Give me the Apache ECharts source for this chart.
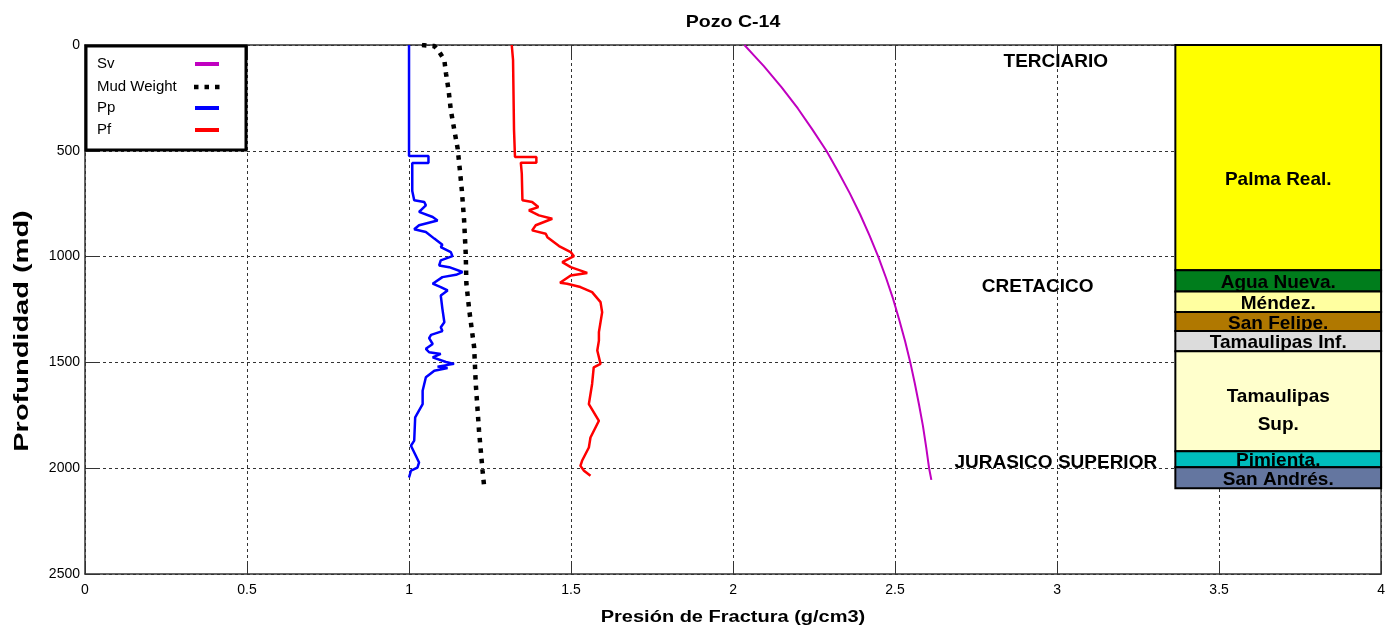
<!DOCTYPE html>
<html><head><meta charset="utf-8">
<script src="https://cdn.jsdelivr.net/npm/echarts@6/dist/echarts.min.js"></script>
<style>html,body{margin:0;padding:0;background:#fff;overflow:hidden}#c{width:1388px;height:629px}</style>
</head><body><div id="c"></div>
<script>
// ---- data ----
const titleText = 'Pozo C-14';
const xName = 'Presión de Fractura (g/cm3)';
const yName = 'Profundidad (md)';
const xMin = 0, xMax = 4, xStep = 0.5;
const yMin = 0, yMax = 2500, yStep = 500;

const svData = [[2.035,0],[2.065,50],[2.095,100],[2.15,200],[2.20,300],[2.245,400],[2.288,500],[2.325,600],[2.36,700],[2.392,800],[2.421,900],[2.448,1000],[2.472,1100],[2.494,1200],[2.513,1300],[2.531,1400],[2.547,1500],[2.561,1600],[2.574,1700],[2.586,1800],[2.596,1900],[2.605,2000],[2.612,2055]];
const mudData = [[1.04,0],[1.078,5],[1.093,32],[1.109,71],[1.114,134],[1.122,213],[1.129,308],[1.139,395],[1.150,489],[1.157,592],[1.163,687],[1.170,829],[1.175,987],[1.177,1128],[1.186,1255],[1.201,1429],[1.206,1602],[1.216,1823],[1.227,2012],[1.232,2088]];
const ppData = [[1.0,0],[1.0,525],[1.06,525],[1.06,558],[1.01,558],[1.01,690],[1.016,734],[1.047,742],[1.052,758],[1.031,789],[1.073,813],[1.088,829],[1.031,852],[1.016,871],[1.052,884],[1.078,915],[1.103,944],[1.098,955],[1.129,979],[1.134,998],[1.098,1018],[1.093,1042],[1.124,1050],[1.165,1073],[1.145,1086],[1.103,1097],[1.073,1128],[1.098,1144],[1.119,1160],[1.098,1184],[1.103,1247],[1.109,1310],[1.098,1334],[1.103,1352],[1.068,1370],[1.062,1385],[1.073,1413],[1.052,1436],[1.062,1452],[1.098,1460],[1.073,1476],[1.114,1498],[1.139,1507],[1.088,1520],[1.119,1526],[1.078,1539],[1.052,1570],[1.042,1634],[1.042,1697],[1.019,1760],[1.016,1870],[1.006,1894],[1.021,1941],[1.031,1973],[1.026,1997],[1.006,2012],[1.0,2044]];
const pfData = [[1.317,0],[1.321,70],[1.324,400],[1.327,529],[1.393,529],[1.393,556],[1.345,556],[1.348,608],[1.35,734],[1.38,742],[1.399,766],[1.37,781],[1.365,789],[1.401,805],[1.442,821],[1.391,852],[1.38,876],[1.422,892],[1.427,908],[1.463,950],[1.499,979],[1.509,998],[1.473,1026],[1.499,1050],[1.55,1077],[1.499,1089],[1.466,1124],[1.488,1128],[1.529,1144],[1.565,1168],[1.591,1215],[1.596,1263],[1.586,1357],[1.586,1397],[1.581,1444],[1.591,1507],[1.570,1523],[1.565,1602],[1.555,1697],[1.586,1776],[1.560,1855],[1.555,1902],[1.534,1965],[1.529,1989],[1.540,2012],[1.560,2036]];

const seriesNames = ['Sv','Mud Weight','Pp','Pf'];

const formationNames = ['Palma Real.','Agua Nueva.','Méndez.','San Felipe.','Tamaulipas Inf.','Tamaulipas\nSup.','Pimienta.','San Andrés.'];
const formationTops = [0,1065,1165,1262,1352,1447,1920,1995];
const formationBottoms = [1065,1165,1262,1352,1447,1920,1995,2095];
const columnLeft = 3.365, columnRight = 4.0;

const eraNames = ['TERCIARIO','CRETACICO','JURASICO SUPERIOR'];
const eraX = [2.996,2.94,2.996];
const eraDepth = [80,1141,1975];

// ---- styles ----
const formationColors = ['#ffff00','#007d1c','#ffffa0','#b07800','#dcdcdc','#ffffcc','#00bdbd','#6476a0'];
const seriesColors = ['#c000c0','#000000','#0000ff','#ff0000'];
const FONT = '"Liberation Sans", Arial, sans-serif';

const stratData = formationNames.map((n,i)=>[columnLeft, columnRight, formationTops[i], formationBottoms[i], i]);
const eraData = eraNames.map((n,i)=>[eraX[i], eraDepth[i], i]);

const chart = echarts.init(document.getElementById('c'), null, {renderer:'canvas', width:1388, height:629});

const axisLineStyle = {color:'#333', width:1.5};

const option = {
  animation:false,
  backgroundColor:'#fff',
  grid:{left:85, right:4, top:45, bottom:55, containLabel:false},
  xAxis:[
    {type:'value', min:xMin, max:xMax, interval:xStep, position:'bottom',
     axisLine:{show:true, onZero:false, lineStyle:axisLineStyle},
     axisTick:{show:true, inside:true, length:12, lineStyle:{color:'#333'}},
     axisLabel:{show:true, color:'#000', fontSize:14, fontFamily:FONT, margin:9, formatter:v=>String(v)},
     splitLine:{show:true, lineStyle:{color:'#333', type:[3,3], width:1}}},
    {type:'value', min:xMin, max:xMax, interval:xStep, position:'top',
     axisLine:{show:true, onZero:false, lineStyle:axisLineStyle},
     axisTick:{show:true, inside:true, length:12, lineStyle:{color:'#333'}},
     axisLabel:{show:false}, splitLine:{show:false}}
  ],
  yAxis:[
    {type:'value', min:yMin, max:yMax, interval:yStep, inverse:true, position:'left',
     axisLine:{show:true, onZero:false, lineStyle:axisLineStyle},
     axisTick:{show:true, inside:true, length:12, lineStyle:{color:'#333'}},
     axisLabel:{show:true, color:'#000', fontSize:14, fontFamily:FONT, margin:5, formatter:v=>String(v)},
     splitLine:{show:true, lineStyle:{color:'#333', type:[3,3], width:1}}},
    {type:'value', min:yMin, max:yMax, interval:yStep, inverse:true, position:'right',
     axisLine:{show:true, onZero:false, lineStyle:axisLineStyle},
     axisTick:{show:true, inside:true, length:12, lineStyle:{color:'#333'}},
     axisLabel:{show:false}, splitLine:{show:false}}
  ],
  series:[
    {name:seriesNames[0], type:'line', data:svData, showSymbol:false, symbol:'none', lineStyle:{color:seriesColors[0], width:2}, z:3},
    {name:seriesNames[1], type:'line', data:mudData, showSymbol:false, symbol:'none', lineStyle:{color:seriesColors[1], width:4.5, type:[4.5,6], cap:'butt'}, z:3},
    {name:seriesNames[2], type:'line', data:ppData, showSymbol:false, symbol:'none', lineStyle:{color:seriesColors[2], width:2.5}, z:3},
    {name:seriesNames[3], type:'line', data:pfData, showSymbol:false, symbol:'none', lineStyle:{color:seriesColors[3], width:2.5}, z:3},
    {type:'custom', data:stratData, z:4, clip:false,
     renderItem:function(params, api){
       const i = api.value(4);
       const p0 = api.coord([api.value(0), api.value(2)]);
       const p1 = api.coord([api.value(1), api.value(3)]);
       const h = p1[1]-p0[1];
       const cy = p0[1] + h*0.6;
       return {type:'group', children:[
         {type:'rect', shape:{x:p0[0], y:p0[1], width:p1[0]-p0[0], height:h},
          style:{fill:formationColors[i], stroke:'#000', lineWidth:2}},
         {type:'text', x:(p0[0]+p1[0])/2, y:cy,
          style:{text:formationNames[i], align:'center', verticalAlign:'middle',
                 font:'bold 19px '+FONT, fill:'#000', lineHeight:28}}
       ]};
     }},
    {type:'custom', data:eraData, z:4, clip:false,
     renderItem:function(params, api){
       const i = api.value(2);
       const p = api.coord([api.value(0), api.value(1)]);
       return {type:'text', x:p[0], y:p[1],
         style:{text:eraNames[i], align:'center', verticalAlign:'middle', font:'bold 19px '+FONT, fill:'#000'}};
     }}
  ],
  graphic:[
    {type:'text', x:733, y:22, z:10, scaleX:1.15,
     style:{text:titleText, align:'center', verticalAlign:'middle', font:'bold 17px '+FONT, fill:'#000'}},
    {type:'text', x:733, y:618, z:10, scaleX:1.25,
     style:{text:xName, align:'center', verticalAlign:'middle', font:'bold 16px '+FONT, fill:'#000'}},
    {type:'text', x:22, y:331, z:10, rotation:Math.PI/2, scaleX:1.38,
     style:{text:yName, align:'center', verticalAlign:'middle', font:'bold 21px '+FONT, fill:'#000'}},
    // legend
    {type:'rect', z:20, shape:{x:86, y:46, width:160, height:104}, style:{fill:'#fff', stroke:'#000', lineWidth:3}},
    {type:'text', z:21, x:97, y:64, style:{text:seriesNames[0], verticalAlign:'middle', font:'15px '+FONT, fill:'#000'}},
    {type:'text', z:21, x:97, y:87, style:{text:seriesNames[1], verticalAlign:'middle', font:'15px '+FONT, fill:'#000'}},
    {type:'text', z:21, x:97, y:108, style:{text:seriesNames[2], verticalAlign:'middle', font:'15px '+FONT, fill:'#000'}},
    {type:'text', z:21, x:97, y:130, style:{text:seriesNames[3], verticalAlign:'middle', font:'15px '+FONT, fill:'#000'}},
    {type:'line', z:21, shape:{x1:195, y1:64, x2:219, y2:64}, style:{stroke:seriesColors[0], lineWidth:4}},
    {type:'line', z:21, shape:{x1:194, y1:87, x2:220, y2:87}, style:{stroke:seriesColors[1], lineWidth:4.5, lineDash:[4.5,6]}},
    {type:'line', z:21, shape:{x1:195, y1:108, x2:219, y2:108}, style:{stroke:seriesColors[2], lineWidth:4}},
    {type:'line', z:21, shape:{x1:195, y1:130, x2:219, y2:130}, style:{stroke:seriesColors[3], lineWidth:4}}
  ]
};
chart.setOption(option);
</script></body></html>
